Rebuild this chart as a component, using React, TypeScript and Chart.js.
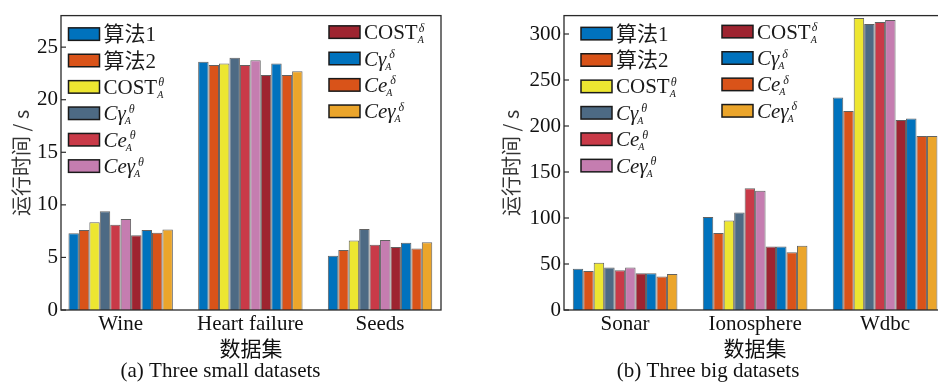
import React, { useEffect, useRef } from "react";
import { Chart, registerables } from "chart.js";

Chart.register(...registerables);

const SERIF = '"Liberation Serif", "Times New Roman", "Noto Sans CJK SC", serif';
const CJK = '"Noto Sans CJK SC", "Liberation Serif", sans-serif';

// Series (legend) description
const seriesNames = ["算法1", "算法2", "COST", "Cγ", "Ce", "Ceγ", "COST", "Cγ", "Ce", "Ceγ"];
const seriesSup = ["", "", "θ", "θ", "θ", "θ", "δ", "δ", "δ", "δ"];
const seriesSub = ["", "", "A", "A", "A", "A", "A", "A", "A", "A"];
const seriesItalic = [false, false, false, true, true, true, false, true, true, true];
const seriesColors = [
  "#0072BD",
  "#D95319",
  "#EDE631",
  "#4D6A84",
  "#C93A48",
  "#C57DB0",
  "#9E2430",
  "#0072BD",
  "#D95319",
  "#EBA52B",
];

// (a) three small datasets
const smallCategories = ["Wine", "Heart failure", "Seeds"];
const wineTimes = [7.3, 7.6, 8.35, 9.4, 8.1, 8.65, 7.1, 7.6, 7.35, 7.65];
const heartFailureTimes = [23.6, 23.3, 23.45, 24.0, 23.3, 23.75, 22.35, 23.45, 22.35, 22.7];
const seedsTimes = [5.15, 5.7, 6.6, 7.7, 6.2, 6.65, 6.0, 6.4, 5.85, 6.45];
const smallAxisMax = 28;
const smallTickStep = 5;

// (b) three big datasets
const bigCategories = ["Sonar", "Ionosphere", "Wdbc"];
const sonarTimes = [44.8, 42.4, 51.4, 46.3, 43.3, 46.3, 40.0, 40.0, 36.5, 39.2];
const ionosphereTimes = [101, 83.7, 97.3, 106, 132.3, 129.5, 69, 69, 62.8, 69.8];
const wdbcTimes = [231, 216.3, 317.5, 311, 313, 315.2, 206.4, 208.2, 189, 189];
const bigAxisMax = 320;
const bigTickStep = 50;

// x-range of the plot box in category units (categories sit at 1, 2, 3)
const smallXRange = [0.54, 3.47];
const bigXRange = [0.53, 3.47];

const yAxisTitle = "运行时间 / s";
const xAxisTitle = "数据集";
const smallTitle = "(a) Three small datasets";
const bigTitle = "(b) Three big datasets";

function buildDatasets(groups: number[][]) {
  return seriesNames.map((name, i) => ({
    label: name + (seriesSup[i] ? "^" + seriesSup[i] + "_" + seriesSub[i] : ""),
    data: groups.map((g, k) => ({ x: k + 1, y: g[i] })),
    backgroundColor: seriesColors[i],
    borderColor: "rgba(70,70,70,0.85)",
    borderWidth: 1,
    categoryPercentage: 0.805,
    barPercentage: 1.0,
  }));
}

const framePlugin = {
  id: "frameTicks",
  afterDatasetsDraw(chart: any) {
    const { ctx, chartArea } = chart;
    const { left, right, top, bottom } = chartArea;
    const y = chart.scales.y;
    ctx.save();
    ctx.strokeStyle = "#2a2a2a";
    ctx.lineWidth = 1.3;
    ctx.strokeRect(left, top, right - left, bottom - top);
    ctx.lineWidth = 1.2;
    y.ticks.forEach((t: any) => {
      const py = y.getPixelForValue(t.value);
      ctx.beginPath();
      ctx.moveTo(left, py);
      ctx.lineTo(left + 5, py);
      ctx.stroke();
    });
    ctx.restore();
  },
};

const richLegendPlugin = {
  id: "richLegend",
  afterDraw(chart: any, _args: any, opts: any) {
    const { ctx, chartArea } = chart;
    ctx.save();
    chart.data.datasets.forEach((ds: any, i: number) => {
      const col = i < 6 ? 0 : 1;
      const row = col === 0 ? i : i - 6;
      const x = chartArea.left + opts.colX[col];
      const cy = chartArea.top + opts.rowY[col] + row * opts.rowGap;
      ctx.fillStyle = ds.backgroundColor;
      ctx.fillRect(x, cy - 6.25, 31, 12.5);
      ctx.strokeStyle = "#1a1a1a";
      ctx.lineWidth = 1.5;
      ctx.strokeRect(x, cy - 6.25, 31, 12.5);
      ctx.fillStyle = "#1a1a1a";
      ctx.textAlign = "left";
      ctx.textBaseline = "alphabetic";
      ctx.font = (seriesItalic[i] ? "italic " : "") + "21px " + SERIF;
      const tx = x + 35;
      const name = seriesNames[i];
      ctx.fillText(name, tx, cy + 7);
      const w = ctx.measureText(name).width;
      if (seriesSup[i]) {
        ctx.font = "italic 12px " + SERIF;
        ctx.fillText(seriesSup[i], tx + w + (seriesItalic[i] ? 3 : 1), cy - 0.5);
      }
      if (seriesSub[i]) {
        ctx.font = "italic 10px " + SERIF;
        ctx.fillText(seriesSub[i], tx + w + (seriesItalic[i] ? -1 : 0), cy + 11);
      }
    });
    ctx.restore();
  },
};

function makeOptions(
  categories: string[],
  xRange: number[],
  axisMax: number,
  step: number,
  yWidth: number,
  yTitlePad: number,
  padRight: number,
  title: string,
  legend: any
) {
  return {
    responsive: false,
    animation: false,
    layout: { padding: { left: 0, right: padRight, top: 10, bottom: 0.8 } },
    scales: {
      x: {
        type: "linear",
        min: xRange[0],
        max: xRange[1],
        offset: false,
        grid: { display: false, drawTicks: false },
        border: { display: false },
        afterBuildTicks: (s: any) => {
          s.ticks = categories.map((_, k) => ({ value: k + 1 }));
        },
        ticks: {
          color: "#111",
          font: { family: SERIF, size: 21, lineHeight: 1.2 },
          padding: 2,
          maxRotation: 0,
          autoSkip: false,
          callback: (v: any) => categories[Math.round(v) - 1] ?? "",
        },
        title: {
          display: true,
          text: xAxisTitle,
          color: "#111",
          font: { family: CJK, size: 21, lineHeight: 1.0 },
          padding: { top: 0, bottom: 0 },
        },
        afterFit: (s: any) => {
          s.height = 49;
        },
      },
      y: {
        min: 0,
        max: axisMax,
        grid: { display: false, drawTicks: false },
        border: { display: false },
        ticks: {
          color: "#111",
          font: { family: SERIF, size: 21, lineHeight: 1.2 },
          padding: 3,
        },
        afterBuildTicks: (s: any) => {
          const ticks: any[] = [];
          for (let v = 0; v <= axisMax; v += step) ticks.push({ value: v });
          s.ticks = ticks;
        },
        title: {
          display: true,
          text: yAxisTitle,
          color: "#333",
          font: { family: CJK, size: 20, lineHeight: 1.2 },
          padding: { top: yTitlePad, bottom: 0 },
        },
        afterFit: (s: any) => {
          s.width = yWidth;
        },
      },
    },
    plugins: {
      legend: { display: false },
      tooltip: { enabled: false },
      title: {
        display: true,
        position: "bottom",
        text: title,
        color: "#111",
        font: { family: SERIF, size: 21, weight: "normal", lineHeight: 1.2 },
        padding: { top: 0, bottom: 0 },
      },
      richLegend: legend,
    },
  };
}

export default function App() {
  const leftRef = useRef<HTMLCanvasElement>(null);
  const rightRef = useRef<HTMLCanvasElement>(null);

  useEffect(() => {
    const left = new Chart(leftRef.current as HTMLCanvasElement, {
      type: "bar",
      data: {
        datasets: buildDatasets([wineTimes, heartFailureTimes, seedsTimes]) as any,
      },
      options: makeOptions(smallCategories, smallXRange, smallAxisMax, smallTickStep, 61, 9, 29, smallTitle, {
        colX: [7.5, 268],
        rowY: [18.5, 16.5],
        rowGap: 26.4,
      }) as any,
      plugins: [framePlugin, richLegendPlugin],
    });
    const right = new Chart(rightRef.current as HTMLCanvasElement, {
      type: "bar",
      data: {
        datasets: buildDatasets([sonarTimes, ionosphereTimes, wdbcTimes]) as any,
      },
      options: makeOptions(bigCategories, bigXRange, bigAxisMax, bigTickStep, 94, 29, 13.8, bigTitle, {
        colX: [17, 158],
        rowY: [18, 16],
        rowGap: 26.4,
      }) as any,
      plugins: [framePlugin, richLegendPlugin],
    });
    return () => {
      left.destroy();
      right.destroy();
    };
  }, []);

  return (
    <div
      style={{
        position: "fixed",
        left: 0,
        top: 0,
        width: 938,
        height: 385,
        overflow: "hidden",
        background: "#fff",
      }}
    >
      <canvas
        ref={leftRef}
        width={470}
        height={385}
        style={{ position: "absolute", left: 0, top: 0, width: 470, height: 385 }}
      />
      <canvas
        ref={rightRef}
        width={490}
        height={385}
        style={{ position: "absolute", left: 470, top: 0, width: 490, height: 385 }}
      />
    </div>
  );
}
